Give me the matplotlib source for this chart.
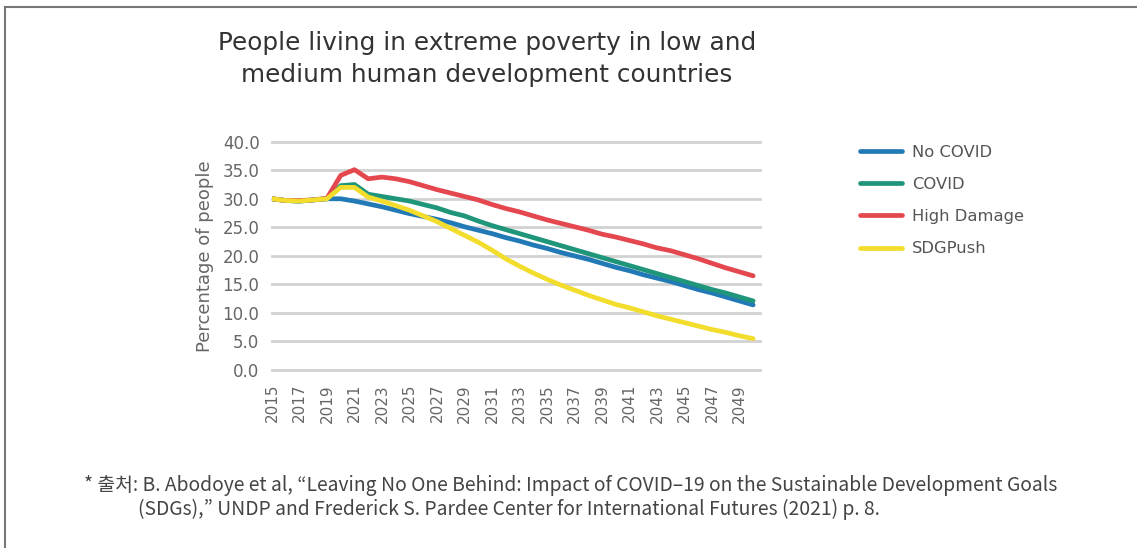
import matplotlib.pyplot as plt
from matplotlib.lines import Line2D
import numpy as np

plt.rcParams['font.family'] = ['DejaVu Sans']

years = list(range(2015, 2051))
no_covid = [30.0, 29.7, 29.6, 29.8, 30.0, 30.0, 29.6, 29.1, 28.6, 28.0, 27.4, 26.9,
            26.4, 25.8, 25.1, 24.5, 23.9, 23.2, 22.6, 21.9, 21.3, 20.6, 20.0, 19.4,
            18.7, 18.0, 17.4, 16.7, 16.1, 15.5, 14.8, 14.1, 13.5, 12.8, 12.1, 11.4]
covid = [30.0, 29.7, 29.6, 29.8, 30.0, 32.3, 32.5, 30.8, 30.4, 30.0, 29.6, 29.0,
         28.4, 27.6, 27.0, 26.1, 25.3, 24.6, 23.9, 23.2, 22.5, 21.8, 21.1, 20.4,
         19.7, 19.0, 18.3, 17.6, 16.9, 16.2, 15.5, 14.8, 14.1, 13.5, 12.8, 12.1]
high_damage = [30.0, 29.7, 29.7, 29.8, 30.1, 34.1, 35.1, 33.5, 33.8, 33.5, 33.0, 32.3,
               31.6, 31.0, 30.4, 29.8, 29.0, 28.3, 27.7, 27.0, 26.3, 25.7, 25.1, 24.5,
               23.8, 23.3, 22.7, 22.1, 21.4, 20.9, 20.2, 19.5, 18.7, 17.9, 17.2, 16.5]
sdg_push = [30.0, 29.7, 29.6, 29.8, 30.0, 32.0, 32.0, 30.3, 29.6, 28.8, 28.0, 27.0,
            26.0, 24.8, 23.6, 22.4, 21.0, 19.5, 18.2, 17.0, 15.9, 14.9, 14.0, 13.1,
            12.3, 11.5, 10.9, 10.2, 9.5, 8.9, 8.3, 7.7, 7.1, 6.6, 6.0, 5.5]

series_names = ['No COVID', 'COVID', 'High Damage', 'SDGPush']
colors = ['#2179b5', '#1f9579', '#e5474f', '#f2dc2c']

W, H = 1137, 548
fig = plt.figure(figsize=(W / 100, H / 100), dpi=100)
ax = fig.add_axes([272 / W, 1 - 370 / H, (760 - 272) / W, (370 - 141.7) / H])

for vals, name, c in zip([no_covid, covid, high_damage, sdg_push], series_names, colors):
    ax.plot(years, vals, color=c, lw=3.4, label=name, solid_capstyle='round', zorder=3)

ax.set_xlim(2015, 2050.5)
ax.set_ylim(0, 40)
ax.set_yticks(np.arange(0, 41, 5))
ax.set_yticklabels(['%.1f' % v for v in np.arange(0, 41, 5)])
ax.set_xticks(years[::2])
ax.set_xticklabels([str(y) for y in years[::2]], rotation=90)
for v in np.arange(0, 41, 5):
    ax.axhline(v, color='#d2d2d2', lw=2, zorder=1, clip_on=False)
for s in ax.spines.values():
    s.set_visible(False)
ax.tick_params(length=0, colors='#666666', labelsize=11)
ax.tick_params(axis='y', pad=9, labelsize=12)
ax.tick_params(axis='x', pad=10)
ax.set_ylabel('Percentage of people', fontsize=13, color='#666666', labelpad=6)

leg = ax.legend(loc='upper left', bbox_to_anchor=(845 / W, 1 - 130 / H),
                bbox_transform=fig.transFigure, frameon=False, fontsize=11.8,
                handlelength=2.6, handletextpad=0.6, labelspacing=1.05)
for t in leg.get_texts():
    t.set_color('#555555')

fig.text(487 / W, 1 - 59 / H, 'People living in extreme poverty in low and\nmedium human development countries',
         ha='center', va='center', fontsize=17.8, color='#333333', linespacing=1.45)

foot_font = ['Noto Sans CJK KR', 'DejaVu Sans']
fig.text(84 / W, 1 - 486 / H, '* 출처: B. Abodoye et al, \u201cLeaving No One Behind: Impact of COVID\u201319 on the Sustainable Development Goals',
         ha='left', va='center', fontsize=13.9, color='#444444',
         family=foot_font, fontweight='light')
fig.text(138 / W, 1 - 509 / H, '(SDGs),\u201d UNDP and Frederick S. Pardee Center for International Futures (2021) p. 8.',
         ha='left', va='center', fontsize=13.9, color='#444444',
         family=foot_font, fontweight='light')

fig.add_artist(Line2D([4.5 / W, 4.5 / W], [0, 1 - 7 / H], transform=fig.transFigure, color='#777777', lw=1.5))
fig.add_artist(Line2D([4.5 / W, 1], [1 - 7 / H, 1 - 7 / H], transform=fig.transFigure, color='#777777', lw=1.5))

fig.savefig('out.png', dpi=100)
